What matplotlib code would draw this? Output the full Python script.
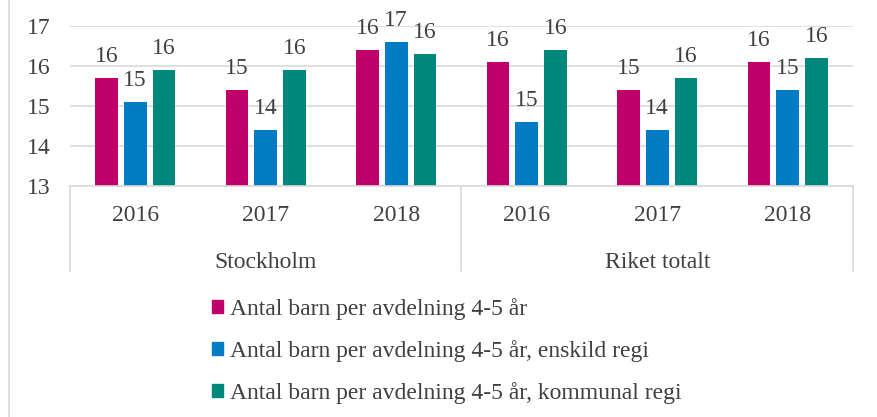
import numpy as np
import matplotlib.pyplot as plt
from matplotlib.lines import Line2D

plt.rcParams['font.family'] = ['Liberation Serif', 'DejaVu Serif']

# Data
groups = ["Stockholm", "Riket totalt"]
years = ["2016", "2017", "2018"]
series_names = ["Antal barn per avdelning 4-5 år",
                "Antal barn per avdelning 4-5 år, enskild regi",
                "Antal barn per avdelning 4-5 år, kommunal regi"]
totalt = [15.7, 15.4, 16.4, 16.1, 15.4, 16.1]
enskild = [15.1, 14.4, 16.6, 14.6, 14.4, 15.4]
kommunal = [15.9, 15.9, 16.3, 16.4, 15.7, 16.2]
colors = ["#C0006A", "#007BC4", "#00877C"]
txt = "#404040"
fs = 17

fig = plt.figure(figsize=(8.77, 4.17), dpi=100)
ax = fig.add_axes([0.0798, 0.554, 0.8928, 0.3836])

x = np.arange(len(groups) * len(years))
w = 0.175
step = 0.22
for i, (vals, c, name) in enumerate(zip([totalt, enskild, kommunal], colors, series_names)):
    pos = x + (i - 1) * step
    ax.bar(pos, vals, width=w, color=c, label=name)
    for p, v in zip(pos, vals):
        ax.annotate(f"{v:.0f}", (p, v), xytext=(0, 11.5), textcoords="offset points",
                    ha="center", va="baseline", fontsize=fs, color=txt)

ax.set_ylim(13, 17)
ax.set_xlim(-0.5, len(x) - 0.5)
ax.set_yticks([13, 14, 15, 16, 17])
ax.tick_params(axis="y", length=0, labelsize=fs, labelcolor=txt, pad=14)
ax.yaxis.grid(True, color="#D9D9D9", linewidth=1.2)
ax.set_axisbelow(True)
for s in ["top", "right", "left"]:
    ax.spines[s].set_visible(False)
ax.spines["bottom"].set_color("#D9D9D9")
ax.spines["bottom"].set_linewidth(1.2)

ax.set_xticks(x)
ax.set_xticklabels(years * len(groups))
ax.tick_params(axis="x", length=0, labelsize=fs, labelcolor=txt, pad=14)

# group labels and separators
tr = ax.get_xaxis_transform()
for g, name in enumerate(groups):
    ax.text(g * 3 + 1, -0.48, name, transform=tr, ha="center", va="center",
            fontsize=fs, color=txt)
for xs in [-0.5, 2.5, 5.5]:
    ax.plot([xs, xs], [0, -0.53], transform=tr, color="#D9D9D9",
            linewidth=1.2, clip_on=False)

handles = [plt.Rectangle((0, 0), 1, 1, color=c) for c in colors]
fig.legend(handles, series_names, loc="upper left", bbox_to_anchor=(0.2417, 0.286),
           frameon=False, fontsize=fs, labelcolor=txt, handlelength=0.47,
           handleheight=0.47, handletextpad=0.3, labelspacing=0.85,
           borderpad=0, borderaxespad=0)

# chart border at left
fig.add_artist(Line2D([0.0103, 0.0103], [0, 1], color="#D9D9D9", linewidth=1.2))

fig.savefig("out.png", dpi=100)
